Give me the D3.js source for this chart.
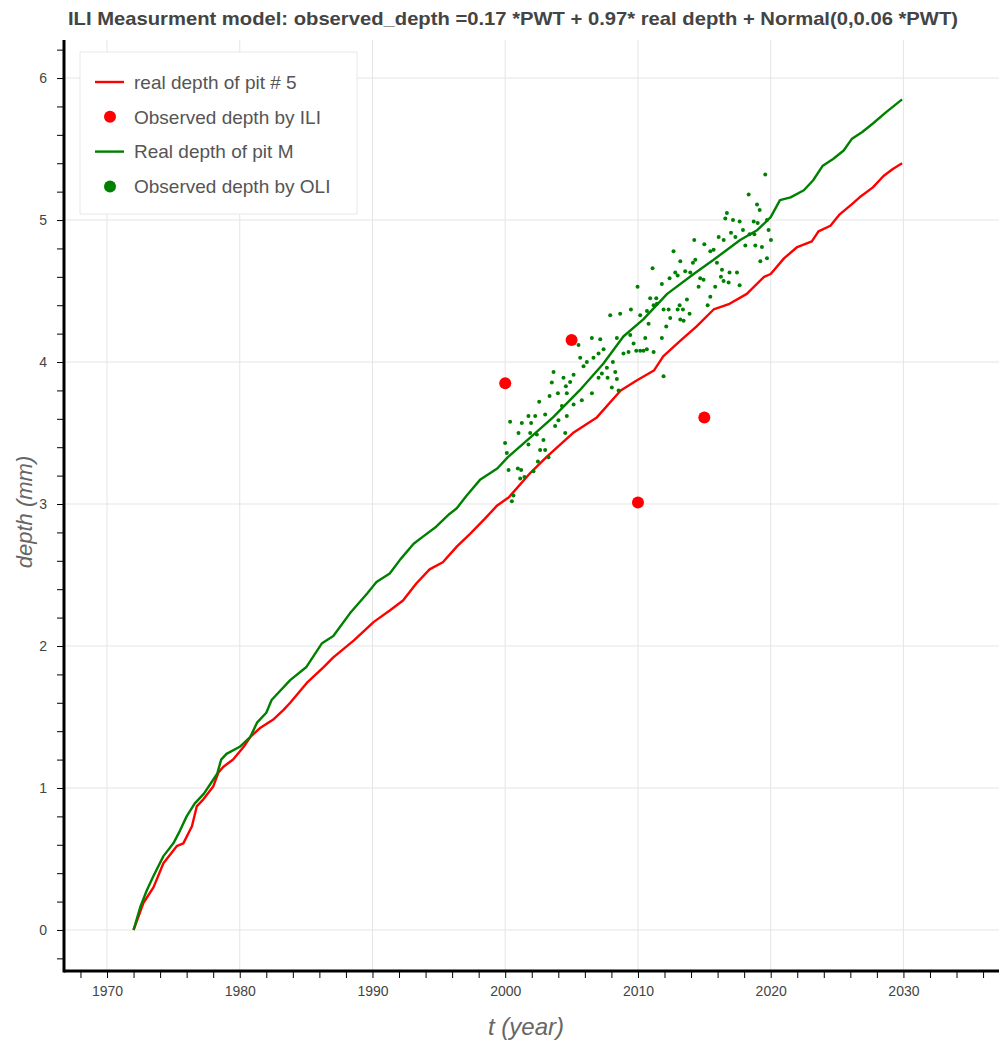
<!DOCTYPE html>
<html>
<head>
<meta charset="utf-8">
<script src="https://cdn.jsdelivr.net/npm/d3@7"></script>
<style>
  body { margin: 0; background: #fff; }
  text { font-family: "Liberation Sans", Arial, sans-serif; }
</style>
</head>
<body>
<svg id="chart"></svg>
<script>
// real depth of pit # 5 (red line)
const redYears = [1972.0, 1972.74, 1973.5, 1974.25, 1975.25, 1975.75, 1976.4, 1976.76, 1977.26, 1978.0,
  1978.4, 1978.77, 1979.5, 1980.3, 1980.8, 1981.5, 1982.5, 1983.3, 1983.8, 1985.05, 1986.3, 1987.05,
  1988.6, 1990.1, 1991.3, 1992.3, 1993.3, 1994.3, 1995.3, 1996.35, 1997.35, 1998.4, 1999.4, 2000.3,
  2001.9, 2003.1, 2005.1, 2006.9, 2008.7, 2009.9, 2011.2, 2011.9, 2013.2, 2014.4, 2015.7, 2016.9,
  2018.2, 2019.5, 2020.0, 2021.0, 2022.0, 2023.1, 2023.6, 2024.5, 2025.2, 2026.1, 2026.7, 2027.7,
  2028.5, 2029.2, 2029.9];
const redDepth = [0, 0.19, 0.30, 0.47, 0.59, 0.61, 0.73, 0.87, 0.92, 1.01,
  1.11, 1.15, 1.20, 1.29, 1.36, 1.42, 1.48, 1.55, 1.60, 1.74, 1.85, 1.92,
  2.04, 2.17, 2.25, 2.32, 2.44, 2.54, 2.59, 2.70, 2.79, 2.89, 2.99, 3.05,
  3.22, 3.33, 3.50, 3.61, 3.80, 3.87, 3.94, 4.04, 4.15, 4.25, 4.37, 4.41,
  4.48, 4.60, 4.62, 4.73, 4.81, 4.85, 4.92, 4.96, 5.04, 5.11, 5.16, 5.23,
  5.31, 5.36, 5.40];

// Real depth of pit M (green line)
const greenYears = [1972.0, 1972.5, 1973.0, 1973.5, 1974.25, 1975.0, 1975.5, 1976.0, 1976.6, 1977.3,
  1977.8, 1978.3, 1978.6, 1979.0, 1980.0, 1980.8, 1981.3, 1982.0, 1982.4, 1983.8, 1985.0, 1986.2,
  1987.05, 1988.3, 1989.6, 1990.3, 1991.3, 1992.1, 1993.1, 1993.8, 1994.8, 1995.8, 1996.35, 1997.1,
  1998.1, 1999.4, 2000.2, 2001.9, 2003.6, 2005.6, 2007.4, 2008.9, 2010.4, 2012.2, 2014.2, 2015.7,
  2017.7, 2019.0, 2020.0, 2020.7, 2021.5, 2022.5, 2023.2, 2023.9, 2024.7, 2025.5, 2026.1, 2026.9,
  2027.7, 2028.7, 2029.9];
const greenDepth = [0, 0.16, 0.28, 0.38, 0.52, 0.61, 0.70, 0.80, 0.89, 0.96,
  1.03, 1.10, 1.20, 1.24, 1.29, 1.36, 1.46, 1.53, 1.62, 1.76, 1.85, 2.02,
  2.07, 2.23, 2.37, 2.45, 2.51, 2.61, 2.72, 2.77, 2.84, 2.93, 2.97, 3.06,
  3.17, 3.25, 3.33, 3.47, 3.61, 3.80, 3.99, 4.18, 4.30, 4.48, 4.62, 4.72,
  4.86, 4.93, 5.02, 5.14, 5.16, 5.21, 5.28, 5.38, 5.43, 5.49, 5.57, 5.62,
  5.68, 5.76, 5.85];

// Observed depth by ILI (red dots)
const iliYears = [2000, 2005, 2010, 2015];
const iliDepth = [3.85, 4.155, 3.01, 3.61];

// Observed depth by OLI (green dots)
const oliYears = [2019.59, 2018.34, 2018.97, 2019.17, 2016.70, 2016.58, 2017.16, 2017.66, 2018.72, 2019.02,
  2019.72, 2016.08, 2016.46, 2017.01, 2017.34, 2017.91, 2018.41, 2018.77, 2019.84, 2020.02,
  2018.09, 2018.84, 2019.34, 2015.0, 2015.70, 2015.45, 2015.95, 2019.22, 2019.72, 2016.33,
  2016.90, 2017.46, 2014.69, 2014.94, 2016.25, 2016.45, 2016.83, 2017.66, 2015.82, 2015.45,
  2015.25,
  2014.24, 2012.68, 2013.19, 2014.32, 2014.14, 2011.10, 2012.81, 2012.99, 2013.56, 2013.94,
  2012.38, 2011.80, 2014.57, 2010.92, 2011.38, 2011.43, 2011.18, 2010.68, 2011.93, 2012.31,
  2013.69, 2013.14, 2012.99, 2013.39, 2012.43, 2013.19, 2013.44, 2013.89, 2012.13, 2010.80,
  2010.55, 2011.80, 2010.67, 2010.42, 2010.17, 2011.18, 2011.93,
  2007.91, 2008.66, 2009.47, 2010.17, 2006.53, 2007.16, 2005.52, 2008.41, 2009.42, 2009.67,
  2007.41, 2007.03, 2006.65, 2005.65, 2006.15, 2005.90, 2008.91, 2009.29, 2009.87, 2008.11,
  2007.66, 2008.29, 2007.28, 2007.03, 2007.71, 2008.41, 2005.15, 2004.89, 2008.03, 2008.54,
  2006.53, 2005.77, 2005.15,
  2003.64, 2004.39, 2003.51, 2004.57, 2004.64, 2003.97, 2003.34, 2002.56, 2004.27, 2004.64,
  2004.01, 2003.01, 2002.26, 2001.75, 2000.37, 2001.25, 2001.95, 2003.76, 2001.00, 2001.88,
  2002.38, 2004.52, 1999.99, 2002.88, 2001.75, 2003.01, 2002.63, 2000.12, 2000.25, 2000.95,
  2001.20, 2003.26, 2002.46, 2002.13, 2001.45, 2001.13, 2000.62, 2000.50, 2009.97];
const oliDepth = [5.32, 5.18, 5.11, 5.07, 5.05, 5.01, 5.00, 4.99, 4.99, 4.98,
  5.00, 4.88, 4.86, 4.91, 4.88, 4.93, 4.90, 4.90, 4.93, 4.86,
  4.82, 4.82, 4.81, 4.83, 4.79, 4.78, 4.70, 4.71, 4.73, 4.65,
  4.63, 4.63, 4.59, 4.58, 4.60, 4.57, 4.56, 4.54, 4.53, 4.46,
  4.40,
  4.86, 4.78, 4.71, 4.72, 4.70, 4.66, 4.63, 4.61, 4.64, 4.63,
  4.59, 4.55, 4.53, 4.45, 4.45, 4.41, 4.40, 4.36, 4.37, 4.37,
  4.44, 4.40, 4.37, 4.37, 4.31, 4.30, 4.29, 4.34, 4.25, 4.27,
  4.17, 4.17, 4.09, 4.08, 4.08, 4.07, 3.90,
  4.33, 4.34, 4.37, 4.33, 4.17, 4.16, 4.12, 4.17, 4.19, 4.13,
  4.09, 4.06, 4.03, 4.03, 4.00, 3.97, 4.06, 4.07, 4.08, 4.00,
  3.96, 3.93, 3.92, 3.89, 3.89, 3.88, 3.91, 3.86, 3.82, 3.80,
  3.78, 3.73, 3.70,
  3.93, 3.89, 3.855, 3.83, 3.78, 3.78, 3.76, 3.72, 3.69, 3.62,
  3.59, 3.63, 3.62, 3.62, 3.58, 3.57, 3.57, 3.55, 3.50, 3.50,
  3.49, 3.50, 3.43, 3.45, 3.42, 3.38, 3.38, 3.36, 3.24, 3.25,
  3.24, 3.33, 3.30, 3.23, 3.19, 3.18, 3.06, 3.02, 4.53];

const xTicks = [1970, 1980, 1990, 2000, 2010, 2020, 2030];
const yTicks = [0, 1, 2, 3, 4, 5, 6];
const legendLabels = ["real depth of pit # 5", "Observed depth by ILI", "Real depth of pit M", "Observed depth by OLI"];

const width = 999, height = 1042;
const plotL = 64, plotR = 999, plotT = 40, plotB = 971;

const svg = d3.select("#chart").attr("width", width).attr("height", height);

const x = d3.scaleLinear().domain([1966.76, 2037.2]).range([plotL, plotR]);
const y = d3.scaleLinear().domain([-0.289, 6.268]).range([plotB, plotT]);

// grid
svg.append("g")
  .selectAll("line")
  .data(xTicks)
  .join("line")
  .attr("x1", d => x(d)).attr("x2", d => x(d))
  .attr("y1", plotT).attr("y2", plotB)
  .attr("stroke", "#e5e5e5");
svg.append("g")
  .selectAll("line")
  .data(yTicks)
  .join("line")
  .attr("x1", plotL).attr("x2", plotR)
  .attr("y1", d => y(d)).attr("y2", d => y(d))
  .attr("stroke", "#e5e5e5");

// title (the original looks condensed, so squeeze a taller font)
svg.append("text")
  .attr("x", 68).attr("y", 25)
  .attr("textLength", 890)
  .attr("lengthAdjust", "spacingAndGlyphs")
  .style("font-size", "19px")
  .style("font-weight", "bold")
  .style("fill", "#444")
  .text("ILI Measurment model: observed_depth =0.17 *PWT + 0.97* real depth + Normal(0,0.06 *PWT)");

// lines
const line = d3.line().x(d => x(d[0])).y(d => y(d[1]));

svg.append("path")
  .datum(d3.zip(redYears, redDepth))
  .attr("fill", "none")
  .attr("stroke", "#f00")
  .attr("stroke-width", 2.4)
  .attr("stroke-linejoin", "round")
  .attr("d", line);

svg.append("path")
  .datum(d3.zip(greenYears, greenDepth))
  .attr("fill", "none")
  .attr("stroke", "#008000")
  .attr("stroke-width", 2.4)
  .attr("stroke-linejoin", "round")
  .attr("d", line);

// scatter
svg.append("g")
  .selectAll("circle")
  .data(d3.zip(oliYears, oliDepth))
  .join("circle")
  .attr("cx", d => x(d[0]))
  .attr("cy", d => y(d[1]))
  .attr("r", 2)
  .attr("fill", "#008000");

svg.append("g")
  .selectAll("circle")
  .data(d3.zip(iliYears, iliDepth))
  .join("circle")
  .attr("cx", d => x(d[0]))
  .attr("cy", d => y(d[1]))
  .attr("r", 6)
  .attr("fill", "#f00");

// axes
const xAxis = d3.axisBottom(x)
  .tickValues(d3.range(1968, 2037, 2))
  .tickSize(7)
  .tickFormat(d => xTicks.includes(d) ? d : "");
const gx = svg.append("g")
  .attr("transform", `translate(0,${plotB})`)
  .call(xAxis);
gx.select(".domain").remove();
gx.selectAll("text").attr("dy", "1.1em").style("font-size", "14px").style("fill", "#444");

const yAxis = d3.axisLeft(y)
  .tickValues(d3.range(-0.2, 6.21, 0.2).map(v => +v.toFixed(1)))
  .tickSize(7)
  .tickFormat(d => yTicks.includes(d) ? d : "");
const gy = svg.append("g")
  .attr("transform", `translate(${plotL},0)`)
  .call(yAxis);
gy.select(".domain").remove();
gy.selectAll("text").attr("dx", "-0.5em").style("font-size", "14px").style("fill", "#444");

svg.append("line")
  .attr("x1", plotL).attr("x2", plotR)
  .attr("y1", plotB).attr("y2", plotB)
  .attr("stroke", "#000").attr("stroke-width", 3);
svg.append("line")
  .attr("x1", plotL).attr("x2", plotL)
  .attr("y1", plotT).attr("y2", plotB + 1.5)
  .attr("stroke", "#000").attr("stroke-width", 3);

// axis labels
svg.append("text")
  .attr("x", 526).attr("y", 1035)
  .attr("text-anchor", "middle")
  .style("font-size", "24px")
  .style("font-style", "italic")
  .style("fill", "#666")
  .text("t (year)");

svg.append("text")
  .attr("transform", "translate(32,512) rotate(-90)")
  .attr("text-anchor", "middle")
  .style("font-size", "22px")
  .style("font-style", "italic")
  .style("fill", "#666")
  .text("depth (mm)");

// legend
const lg = svg.append("g");
lg.append("rect")
  .attr("x", 80).attr("y", 52)
  .attr("width", 277).attr("height", 162)
  .attr("fill", "#fff")
  .attr("stroke", "#e8e8e8");

const rows = lg.selectAll("g")
  .data(legendLabels)
  .join("g")
  .attr("transform", (d, i) => `translate(0,${82 + i * 34.8})`);

rows.filter((d, i) => i % 2 === 0)
  .append("line")
  .attr("x1", 95).attr("x2", 124)
  .attr("stroke", (d, i) => i === 0 ? "#f00" : "#008000")
  .attr("stroke-width", 2.4);

rows.filter((d, i) => i % 2 === 1)
  .append("circle")
  .attr("cx", 110)
  .attr("r", 6)
  .attr("fill", (d, i) => i === 0 ? "#f00" : "#008000");

rows.append("text")
  .attr("x", 134)
  .attr("dy", "0.36em")
  .style("font-size", "19px")
  .style("fill", "#555")
  .text(d => d);
</script>
</body>
</html>
